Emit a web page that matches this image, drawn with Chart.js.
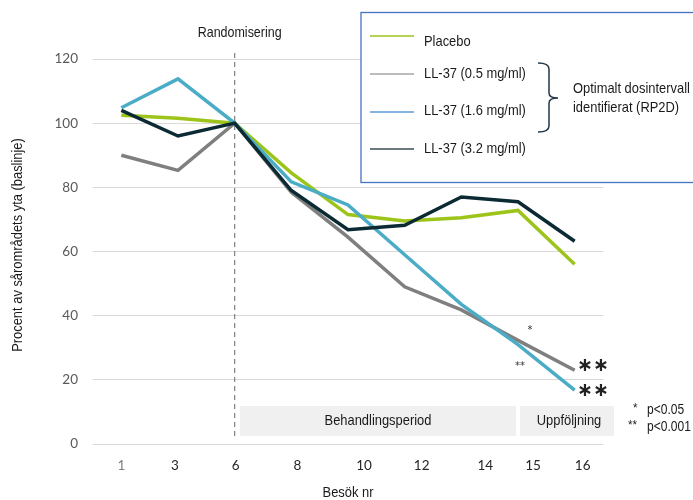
<!DOCTYPE html>
<html>
<head>
<meta charset="utf-8">
<script src="https://cdn.jsdelivr.net/npm/chart.js"></script>
<style>
  body { margin: 0; background: #fff; }
</style>
</head>
<body>
<canvas id="woundChart" width="693" height="500"></canvas>
<script>
// Besök (visit numbers)
const visits = ['1', '3', '6', '8', '10', '12', '14', '15', '16'];

// Procent av sårområdets yta
const placebo = [102.5, 101.5, 100, 84.5, 71.5, 69.5, 70.5, 72.8, 56];
const ll37_05 = [90, 85.3, 100, 78.5, 64.5, 49, 41.8, 32.3, 23];
const ll37_16 = [104.8, 113.8, 100, 81.7, 74.5, 59, 43.5, 31, 16.8];
const ll37_32 = [104, 96, 100, 79, 66.8, 68.2, 77, 75.5, 63.2];

const yTicks = [0, 20, 40, 60, 80, 100, 120];

// the original's visit labels sit a little off the data points
const labelShift = [0, -3, 1, 6, 16, 17, 24, 15, 8];

const tickFont = 'Lato, "Open Sans", sans-serif';

// no Arial Narrow here, so squeeze Liberation Sans a bit
function narrowText(ctx, text, x, y, size) {
    ctx.font = size + 'px "Liberation Sans", Arial, sans-serif';
    const w = ctx.measureText(text).width;
    ctx.fillText(text, x, y, w * 0.86);
}

// Extra drawings: randomisation line, period boxes, legend, asterisks
const annotations = {
    id: 'annotations',
    beforeDatasetsDraw(chart) {
        const ctx = chart.ctx;
        const x6 = chart.scales.x.getPixelForTick(2);
        ctx.save();
        ctx.strokeStyle = '#7f7f7f';
        ctx.lineWidth = 1.2;
        ctx.setLineDash([5, 4]);
        ctx.beginPath();
        ctx.moveTo(x6, 53);
        ctx.lineTo(x6, 440);
        ctx.stroke();
        ctx.restore();
    },
    afterDraw(chart) {
        const ctx = chart.ctx;
        const xScale = chart.scales.x;
        const x6 = xScale.getPixelForTick(2);
        ctx.save();

        // visit labels
        ctx.textAlign = 'center';
        ctx.textBaseline = 'middle';
        ctx.font = '13.5px ' + tickFont;
        visits.forEach((v, i) => {
            ctx.fillStyle = i === 0 ? '#7f7f7f' : '#262626';
            ctx.fillText(v, xScale.getPixelForTick(i) + labelShift[i], 466);
        });

        ctx.fillStyle = '#1a1a1a';
        narrowText(ctx, 'Randomisering', x6 + 5, 33, 14.5);

        // axis titles
        narrowText(ctx, 'Besök nr', 348, 493, 15);
        ctx.save();
        ctx.translate(18, 245);
        ctx.rotate(-Math.PI / 2);
        narrowText(ctx, 'Procent av sårområdets yta (baslinje)', 0, 0, 15);
        ctx.restore();

        // period boxes
        ctx.fillStyle = '#f0f0f0';
        ctx.fillRect(240, 406, 276, 30);
        ctx.fillRect(520, 406, 94, 30);
        ctx.fillStyle = '#1a1a1a';
        narrowText(ctx, 'Behandlingsperiod', 378, 421, 15);
        narrowText(ctx, 'Uppföljning', 569, 421, 15);

        // significance
        ctx.textAlign = 'left';
        narrowText(ctx, '*', 633, 408, 13.5);
        narrowText(ctx, 'p<0.05', 647, 410, 14);
        narrowText(ctx, '**', 628, 425, 13.5);
        narrowText(ctx, 'p<0.001', 647, 427, 14);

        ctx.textAlign = 'center';
        ctx.fillStyle = '#333';
        ctx.font = '10px DejaVu Sans';
        ctx.fillText('*', 530, 330);
        ctx.fillText('**', 520, 366);
        ctx.fillStyle = '#222';
        ctx.font = 'bold 19px DejaVu Sans';
        ctx.fillText('\u2217\u2217', 593, 366);
        ctx.fillText('\u2217\u2217', 593, 391);

        // legend box
        ctx.fillStyle = '#fff';
        ctx.fillRect(361, 12, 340, 171);
        ctx.strokeStyle = '#4472c4';
        ctx.lineWidth = 1.3;
        ctx.strokeRect(361, 12.5, 340, 170);

        const items = [
            { text: 'Placebo', color: '#9dc41b', ly: 36, ty: 42 },
            { text: 'LL-37 (0.5 mg/ml)', color: '#a6a6a6', ly: 74, ty: 74 },
            { text: 'LL-37 (1.6 mg/ml)', color: '#5b9bd5', ly: 112, ty: 111 },
            { text: 'LL-37 (3.2 mg/ml)', color: '#3b4e56', ly: 149, ty: 149 }
        ];
        ctx.textAlign = 'left';
        items.forEach(item => {
            ctx.strokeStyle = item.color;
            ctx.lineWidth = 1.5;
            ctx.beginPath();
            ctx.moveTo(370, item.ly);
            ctx.lineTo(414, item.ly);
            ctx.stroke();
            ctx.fillStyle = '#1a1a1a';
            narrowText(ctx, item.text, 424, item.ty, 15);
        });

        // bracket
        ctx.strokeStyle = '#243746';
        ctx.lineWidth = 1.5;
        ctx.beginPath();
        ctx.moveTo(538, 63);
        ctx.quadraticCurveTo(549, 63, 549, 69);
        ctx.lineTo(549, 93);
        ctx.quadraticCurveTo(549, 98, 558, 98);
        ctx.quadraticCurveTo(549, 98, 549, 103);
        ctx.lineTo(549, 126);
        ctx.quadraticCurveTo(549, 132, 538, 132);
        ctx.stroke();
        narrowText(ctx, 'Optimalt dosintervall', 573, 89, 15);
        narrowText(ctx, 'identifierat (RP2D)', 573, 108, 15);

        ctx.restore();
    }
};

function lineSet(label, data, color, order) {
    return {
        label: label,
        data: data,
        borderColor: color,
        backgroundColor: color,
        borderWidth: 3.5,
        pointRadius: 0,
        tension: 0,
        order: order
    };
}

new Chart(document.getElementById('woundChart').getContext('2d'), {
    type: 'line',
    data: {
        labels: visits,
        datasets: [
            lineSet('Placebo', placebo, '#9dc41b', 4),
            lineSet('LL-37 (0.5 mg/ml)', ll37_05, '#7f7f7f', 3),
            lineSet('LL-37 (1.6 mg/ml)', ll37_16, '#4bacc6', 2),
            lineSet('LL-37 (3.2 mg/ml)', ll37_32, '#0b2a33', 1)
        ]
    },
    options: {
        responsive: false,
        devicePixelRatio: 1,
        animation: false,
        layout: { padding: { top: 59, right: 90, bottom: 0, left: 0 } },
        plugins: {
            legend: { display: false },
            tooltip: { enabled: false }
        },
        scales: {
            x: {
                offset: true,
                grid: { display: false, drawTicks: false },
                border: { display: false },
                ticks: { display: false },
                afterFit(scale) { scale.height = 56; }
            },
            y: {
                min: 0,
                max: 120,
                afterBuildTicks(scale) { scale.ticks = yTicks.map(v => ({ value: v })); },
                grid: { color: '#d9d9d9', lineWidth: 1, drawTicks: false },
                border: { display: false },
                ticks: { color: '#595959', font: { family: tickFont, size: 13.5 }, padding: 15 },
                afterFit(scale) { scale.width = 93; }
            }
        }
    },
    plugins: [annotations]
});
</script>
</body>
</html>
